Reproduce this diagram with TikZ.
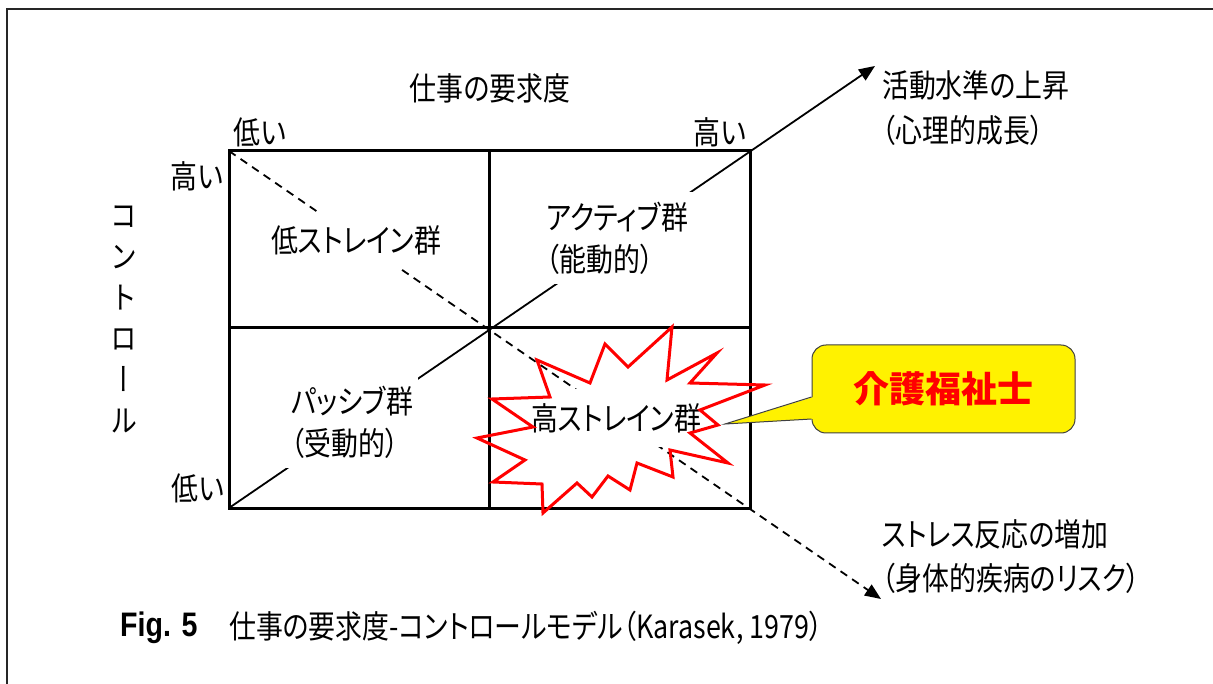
\documentclass[tikz,border=0pt]{standalone}
\usepackage{fontspec}
\usetikzlibrary{arrows.meta,calc}
\setmainfont{Liberation Sans}
\newfontfamily\jp[FakeStretch=0.84,RawFeature=+palt]{Noto Sans CJK JP}
\newfontfamily\jpv[FakeStretch=0.84,RawFeature=+vert]{Noto Sans CJK JP}
\newfontfamily\jpn{Noto Sans CJK JP}
\newfontfamily\figf[FakeStretch=0.84]{Liberation Sans}
\begin{document}
\begin{tikzpicture}[x=1pt,y=-1pt,
  lbl/.style={font=\jp\fontsize{32}{42}\selectfont, inner sep=0pt},
  grp/.style={lbl, fill=white, align=left, inner xsep=5pt},
  gridline/.style={line width=3pt, line cap=rect},
  diag/.style={line width=1.8pt, -{Triangle[length=16pt,width=13pt]}},
  dashdiag/.style={diag, dash pattern=on 8pt off 6pt},
  burst/.style={draw=red, line width=3pt, line join=miter},
  callout/.style={draw=black!75, line width=1pt, fill=yellow},
]
\useasboundingbox (0,0) rectangle (1213,684);
\fill[white] (0,0) rectangle (1213,684);
\draw[line width=2.5pt, draw=black!85] (7,684) -- (7,9) -- (1213,9);

% grid corners
\coordinate (TL) at (229,151);
\coordinate (TR) at (750,151);
\coordinate (BL) at (229,508);
\coordinate (BR) at (750,508);
\coordinate (TM) at (489,151);
\coordinate (BM) at (489,508);
\coordinate (ML) at (229,328);
\coordinate (MR) at (750,328);
\coordinate (up) at (875,66);
\coordinate (down) at (881,599);

% diagonals
\draw[diag] (BL) -- (up);
\draw[dashdiag] (TL) -- (down);

% grid
\draw[gridline] (TL) rectangle (BR);
\draw[gridline] (TM) -- (BM);
\draw[gridline] (ML) -- (MR);

% axis labels
\node[lbl] (demand) at (490,88) {仕事の要求度};
\node[lbl] (dlow) at (260,132) {低い};
\node[lbl] (dhigh) at (720,132) {高い};
\node[lbl] (chigh) at (197,176) {高い};
\node[lbl] (clow) at (198,488) {低い};
\node[font=\jpv\fontsize{32}{41}\selectfont, inner sep=0pt, align=center] (ctl) at (124,319) {コ\\ン\\ト\\ロ\\ー\\ル};

% quadrant labels
\node[grp, minimum height=56pt] (lowst) at (356,240) {低ストレイン群};
\node[grp, inner ysep=10pt] (active) at (617,238) {アクティブ群\\（能動的）};
\node[grp, inner ysep=10pt] (passive) at (352,422) {パッシブ群\\（受動的）};
\node[grp, minimum height=57pt] (highst) at (616,418) {高ストレイン群};

% starburst
\draw[burst] (672,327) -- (667,380) -- (717,353) -- (690,383) -- (765,385)
  -- (700,410) -- (718,425) -- (690,433) -- (728,463) -- (670,450)
  -- (673,477) -- (637,463) -- (630,490) -- (608,476) -- (592,497)
  -- (577,483) -- (543,513) -- (542,484) -- (493,482) -- (525,460)
  -- (477,438) -- (533,427) -- (492,399) -- (550,397) -- (537,360)
  -- (590,383) -- (605,344) -- (628,367) -- cycle;

% outcome labels
\node[lbl, anchor=west, align=left, font=\jp\fontsize{32}{45}\selectfont] (rise) at (882,108) {活動水準の上昇\\（心理的成長）};
\node[lbl, anchor=west, align=left, font=\jp\fontsize{32}{44}\selectfont] (stress) at (882,557) {ストレス反応の増加\\（身体的疾病のリスク）};

% callout
\node[callout, rounded corners=14pt, minimum width=263pt, minimum height=88pt, inner sep=0pt,
      font=\jpn\bfseries\fontsize{36}{40}\selectfont, text=red] (kaigo) at (943.5,389) {介護福祉士};
\coordinate (tip) at (725,424);
\fill[yellow] (tip) -- ($(kaigo.west)+(2,8)$) -- ($(kaigo.west)+(2,30)$) -- cycle;
\draw[draw=black!75, line width=1pt] ($(kaigo.west)+(0,8)$) -- (tip) -- ($(kaigo.west)+(0,30)$);

% caption
\node[inner sep=0pt, anchor=west, font=\figf\bfseries\fontsize{34}{40}\selectfont] (fig) at (120,628) {Fig. 5};
\node[lbl, anchor=west] (cap) at (229,628) {仕事の要求度-コントロールモデル（Karasek, 1979）};
\end{tikzpicture}
\end{document}
